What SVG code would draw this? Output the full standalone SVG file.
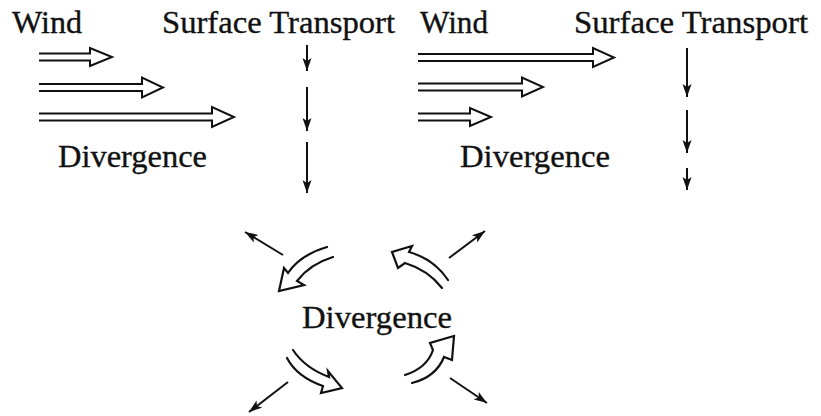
<svg xmlns="http://www.w3.org/2000/svg" width="821" height="416" viewBox="0 0 821 416">
<defs>
<marker id="ah" markerUnits="userSpaceOnUse" markerWidth="14" markerHeight="10" refX="13" refY="5" orient="auto" viewBox="0 0 14 10">
<path d="M0,0.5 L13,5 L0,9.5 L3,5 z" fill="#111"/>
</marker>
<style>
.t{font-family:"Liberation Serif","Times New Roman",serif;font-size:32px;fill:#111;stroke:#111;stroke-width:0.35}
.w{fill:#fff;stroke:#111;stroke-width:2;stroke-linejoin:miter}
.c{fill:#fff;stroke:#111;stroke-width:2.2;stroke-linejoin:miter;stroke-linecap:round}
.s{fill:none;stroke:#111;stroke-width:2;marker-end:url(#ah)}
</style>
</defs>
<rect width="821" height="416" fill="#fff"/>

<g id="left-panel">
<text class="t" x="12" y="33" textLength="70" lengthAdjust="spacingAndGlyphs">Wind</text>
<text class="t" x="162" y="33" textLength="233" lengthAdjust="spacingAndGlyphs">Surface Transport</text>
<text class="t" x="58" y="167" textLength="149" lengthAdjust="spacingAndGlyphs">Divergence</text>
<g id="left-wind">
<path class="w" d="M39,53.5 H90 V48 L112,57 L90,66 V60.5 H39"/>
<path class="w" d="M39,84 H142 V77.5 L163,87.5 L142,97.5 V91 H39"/>
<path class="w" d="M39,113.5 H212 V107 L234,117 L212,127 V120.5 H39"/>
</g>
</g>

<g id="right-panel">
<text class="t" x="420" y="33" textLength="68" lengthAdjust="spacingAndGlyphs">Wind</text>
<text class="t" x="574" y="33" textLength="234" lengthAdjust="spacingAndGlyphs">Surface Transport</text>
<text class="t" x="460" y="167" textLength="150" lengthAdjust="spacingAndGlyphs">Divergence</text>
<g id="right-wind">
<path class="w" d="M418,54 H593 V48 L614,57.5 L593,67 V61 H418"/>
<path class="w" d="M418,83.5 H522 V77.5 L543,87 L522,96.5 V90.5 H418"/>
<path class="w" d="M418,113.5 H470 V108 L491,117 L470,126 V120.5 H418"/>
</g>
</g>

<g id="center">
<text class="t" x="302" y="328" textLength="150" lengthAdjust="spacingAndGlyphs">Divergence</text>
<g id="curved-arrows">
<path class="c" d="M327,247 Q300,255 288,273 L284,268 L279,291 L304,285 L297,281 Q310,264 333,257"/>
<path class="c" d="M448,280 Q434,259 409,252 L412,246 L392,252 L398,268 L405,263 Q428,270 442,288"/>
<path class="c" d="M293,350 Q305,368 329,377 L328,371 L342,388 L321,393 L323,386 Q297,377 287,358"/>
<path class="c" d="M405,375 Q427,368 433,350 L430,343 L454,336 L452,360 L444,357 Q436,377 412,383"/>
</g>
</g>

<g id="connectors">
<line class="s" x1="307" y1="45" x2="307" y2="71"/>
<line class="s" x1="307" y1="87" x2="307" y2="131"/>
<line class="s" x1="307" y1="142" x2="307" y2="193"/>
<line class="s" x1="687" y1="48" x2="687" y2="97"/>
<line class="s" x1="687" y1="110" x2="687" y2="153"/>
<line class="s" x1="687" y1="168" x2="687" y2="190"/>
<line class="s" x1="283" y1="255" x2="245" y2="232"/>
<line class="s" x1="449" y1="258" x2="485" y2="231"/>
<line class="s" x1="288" y1="382" x2="249" y2="412"/>
<line class="s" x1="450" y1="378" x2="487" y2="403"/>
</g>
</svg>
